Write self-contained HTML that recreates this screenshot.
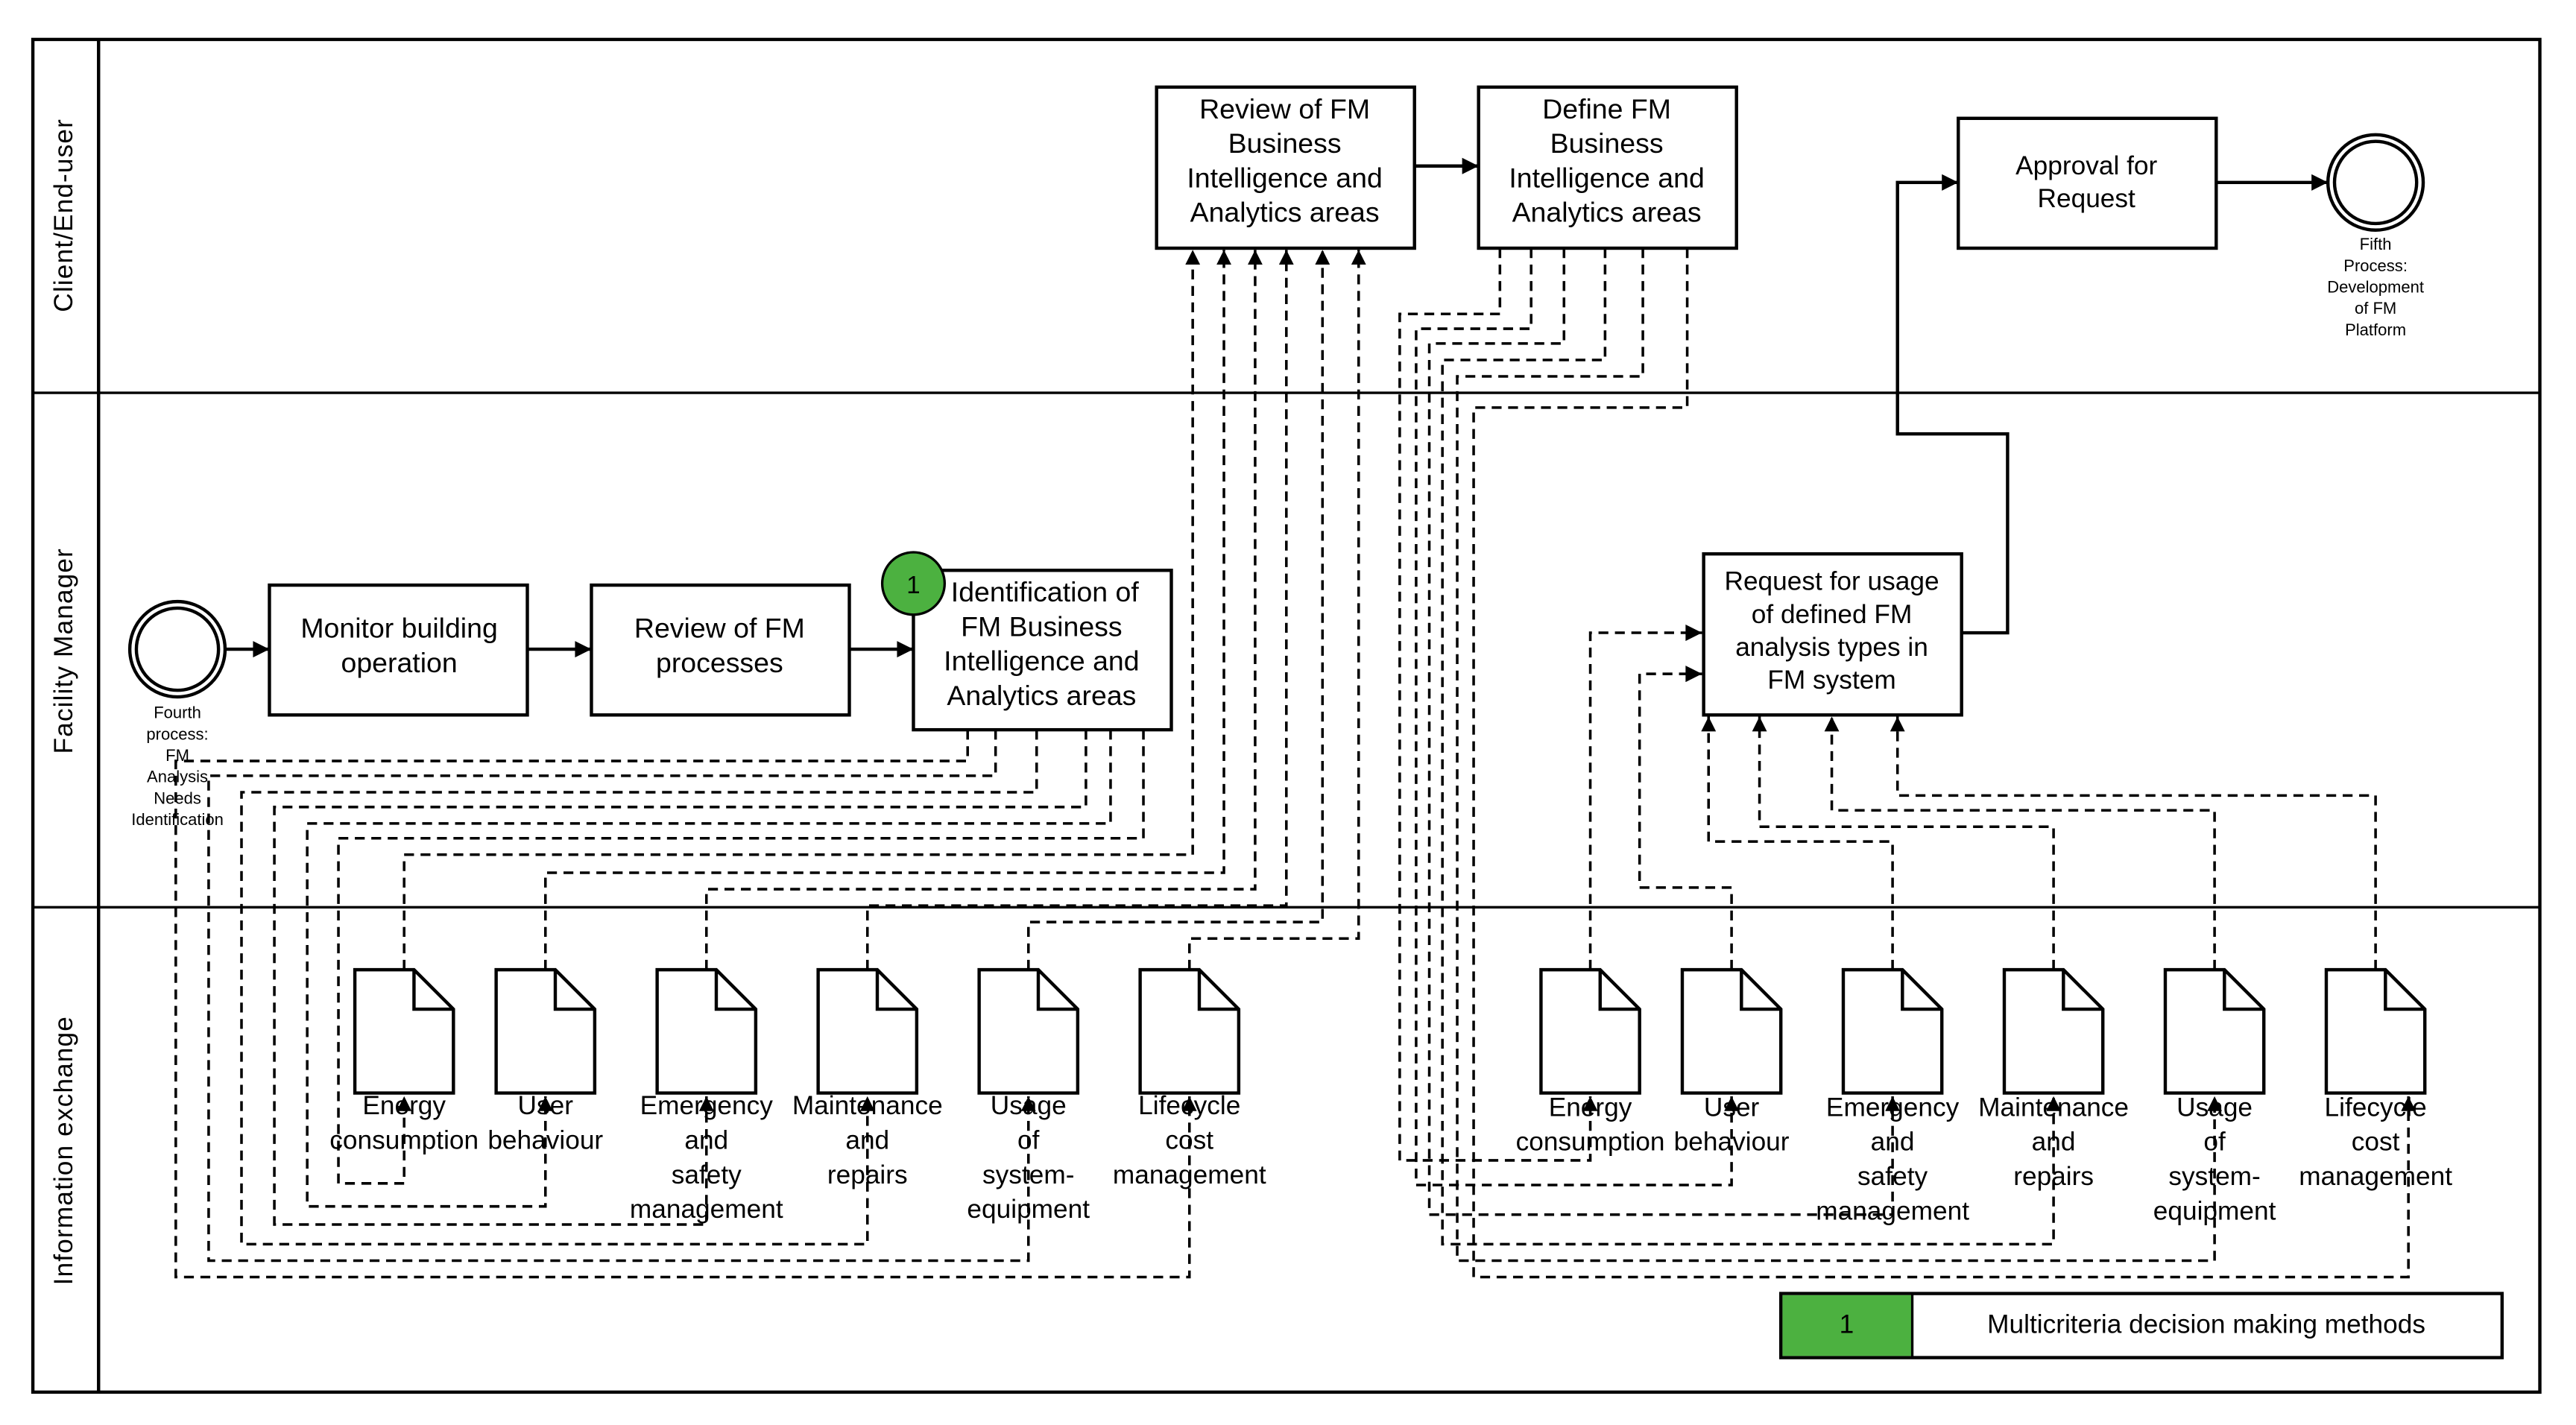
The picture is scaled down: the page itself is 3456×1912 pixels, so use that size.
<!DOCTYPE html>
<html><head><meta charset="utf-8"><style>
html,body{margin:0;padding:0;background:#fff}
svg{display:block}
text{font-family:"Liberation Sans",Arial,sans-serif;fill:#000}
</style></head><body>
<svg width="3456" height="1912" viewBox="0 0 1568 867" preserveAspectRatio="none" xmlns="http://www.w3.org/2000/svg">
<defs>
<marker id="a" viewBox="0 0 10 10" refX="10" refY="5" markerWidth="9" markerHeight="9" markerUnits="userSpaceOnUse" orient="auto"><path d="M0,0 L10,5 L0,10 z" fill="#000"/></marker>
<marker id="b" viewBox="0 0 10 10" refX="10" refY="5" markerWidth="13" markerHeight="10" markerUnits="userSpaceOnUse" orient="auto"><path d="M0,0 L10,5 L0,10 z" fill="#000"/></marker>
</defs>
<!-- frame -->
<rect x="20" y="24" width="1526" height="823" fill="none" stroke="#000" stroke-width="2"/>
<line x1="60" y1="24" x2="60" y2="847" stroke="#000" stroke-width="2"/>
<line x1="20" y1="239" x2="1546" y2="239" stroke="#000" stroke-width="1.5"/>
<line x1="20" y1="552" x2="1546" y2="552" stroke="#000" stroke-width="1.5"/>
<text transform="translate(44,131) rotate(-90)" text-anchor="middle" font-size="16" letter-spacing="0.5">Client/End-user</text>
<text transform="translate(44,396) rotate(-90)" text-anchor="middle" font-size="16" letter-spacing="0.5">Facility Manager</text>
<text transform="translate(44,700) rotate(-90)" text-anchor="middle" font-size="16" letter-spacing="0.5">Information exchange</text>

<g fill="#fff" stroke="#000" stroke-width="2">
<rect x="704" y="53" width="157" height="98"/>
<rect x="900" y="53" width="157" height="98"/>
<rect x="1192" y="72" width="157" height="79"/>
<rect x="164" y="356" width="157" height="79"/>
<rect x="360" y="356" width="157" height="79"/>
<rect x="556" y="347" width="157" height="97"/>
<rect x="1037" y="337" width="157" height="98"/>
<circle cx="1446" cy="111" r="29"/><circle cx="1446" cy="111" r="25"/>
<circle cx="108" cy="395" r="29"/><circle cx="108" cy="395" r="25"/>
</g>
<circle cx="556" cy="355" r="19" fill="#4cb140" stroke="#000" stroke-width="1.5"/>
<text x="556" y="361" text-anchor="middle" font-size="15">1</text>

<g font-size="17" text-anchor="middle">
<text x="782" y="72">Review of FM</text><text x="782" y="93">Business</text><text x="782" y="114">Intelligence and</text><text x="782" y="135">Analytics areas</text>
<text x="978" y="72">Define FM</text><text x="978" y="93">Business</text><text x="978" y="114">Intelligence and</text><text x="978" y="135">Analytics areas</text>
<text x="1270" y="106" font-size="16">Approval for</text><text x="1270" y="126" font-size="16">Request</text>
<text x="243" y="388">Monitor building</text><text x="243" y="409">operation</text>
<text x="438" y="388">Review of FM</text><text x="438" y="409">processes</text>
<text x="636" y="366">Identification of</text><text x="634" y="387">FM Business</text><text x="634" y="408">Intelligence and</text><text x="634" y="429">Analytics areas</text>
<text x="1115" y="359" font-size="16">Request for usage</text><text x="1115" y="379" font-size="16">of defined FM</text><text x="1115" y="399" font-size="16">analysis types in</text><text x="1115" y="419" font-size="16">FM system</text>
</g>
<g font-size="10" text-anchor="middle">
<text x="108" y="437">Fourth</text><text x="108" y="450">process:</text><text x="108" y="463">FM</text><text x="108" y="476">Analysis</text><text x="108" y="489">Needs</text><text x="108" y="502">Identification</text>
<text x="1446" y="152">Fifth</text><text x="1446" y="165">Process:</text><text x="1446" y="178">Development</text><text x="1446" y="191">of FM</text><text x="1446" y="204">Platform</text>
</g>

<!-- solid arrows -->
<g stroke="#000" stroke-width="2" fill="none">
<line x1="137" y1="395" x2="164" y2="395" marker-end="url(#b)"/>
<line x1="321" y1="395" x2="360" y2="395" marker-end="url(#b)"/>
<line x1="517" y1="395" x2="556" y2="395" marker-end="url(#b)"/>
<line x1="861" y1="101" x2="900" y2="101" marker-end="url(#b)"/>
<line x1="1349" y1="111" x2="1417" y2="111" marker-end="url(#b)"/>
<polyline points="1194,385 1222,385 1222,264 1155,264 1155,111 1192,111" marker-end="url(#b)"/>
</g>

<!-- documents -->
<g fill="#fff" stroke="#000" stroke-width="2">
<path d="M216,590 H252 L276,614 V665 H216 Z M252,590 V614 H276"/>
<path d="M302,590 H338 L362,614 V665 H302 Z M338,590 V614 H362"/>
<path d="M400,590 H436 L460,614 V665 H400 Z M436,590 V614 H460"/>
<path d="M498,590 H534 L558,614 V665 H498 Z M534,590 V614 H558"/>
<path d="M596,590 H632 L656,614 V665 H596 Z M632,590 V614 H656"/>
<path d="M694,590 H730 L754,614 V665 H694 Z M730,590 V614 H754"/>
<path d="M938,590 H974 L998,614 V665 H938 Z M974,590 V614 H998"/>
<path d="M1024,590 H1060 L1084,614 V665 H1024 Z M1060,590 V614 H1084"/>
<path d="M1122,590 H1158 L1182,614 V665 H1122 Z M1158,590 V614 H1182"/>
<path d="M1220,590 H1256 L1280,614 V665 H1220 Z M1256,590 V614 H1280"/>
<path d="M1318,590 H1354 L1378,614 V665 H1318 Z M1354,590 V614 H1378"/>
<path d="M1416,590 H1452 L1476,614 V665 H1416 Z M1452,590 V614 H1476"/>
</g>

<!-- dashed connectors -->
<g stroke="#000" stroke-width="1.6" fill="none" stroke-dasharray="6 4">
<polyline points="589,444 589,463 107,463 107,777 724,777 724,667" marker-end="url(#a)"/>
<polyline points="606,444 606,472 127,472 127,767 626,767 626,667" marker-end="url(#a)"/>
<polyline points="631,444 631,482 147,482 147,757 528,757 528,667" marker-end="url(#a)"/>
<polyline points="661,444 661,491 167,491 167,745 430,745 430,667" marker-end="url(#a)"/>
<polyline points="676,444 676,501 187,501 187,734 332,734 332,667" marker-end="url(#a)"/>
<polyline points="696,444 696,510 206,510 206,720 246,720 246,667" marker-end="url(#a)"/>
<polyline points="246,590 246,520 726,520 726,152" marker-end="url(#a)"/>
<polyline points="332,590 332,531 745,531 745,152" marker-end="url(#a)"/>
<polyline points="430,590 430,541 764,541 764,152" marker-end="url(#a)"/>
<polyline points="528,590 528,551 783,551 783,152" marker-end="url(#a)"/>
<polyline points="626,590 626,561 805,561 805,152" marker-end="url(#a)"/>
<polyline points="724,590 724,571 827,571 827,152" marker-end="url(#a)"/>
<polyline points="913,151 913,191 852,191 852,706 968,706 968,667" marker-end="url(#a)"/>
<polyline points="932,151 932,200 862,200 862,721 1054,721 1054,667" marker-end="url(#a)"/>
<polyline points="952,151 952,209 870,209 870,739 1152,739 1152,667" marker-end="url(#a)"/>
<polyline points="977,151 977,219 878,219 878,757 1250,757 1250,667" marker-end="url(#a)"/>
<polyline points="1000,151 1000,229 887,229 887,767 1348,767 1348,667" marker-end="url(#a)"/>
<polyline points="1027,151 1027,248 897,248 897,777 1466,777 1466,667" marker-end="url(#a)"/>
<polyline points="968,590 968,385 1036,385" marker-end="url(#b)"/>
<polyline points="1054,590 1054,540 998,540 998,410 1036,410" marker-end="url(#b)"/>
<polyline points="1152,590 1152,512 1040,512 1040,436" marker-end="url(#a)"/>
<polyline points="1250,590 1250,503 1071,503 1071,436" marker-end="url(#a)"/>
<polyline points="1348,590 1348,493 1115,493 1115,436" marker-end="url(#a)"/>
<polyline points="1446,590 1446,484 1155,484 1155,436" marker-end="url(#a)"/>
</g>

<!-- doc labels -->
<g font-size="16" text-anchor="middle">
<text x="246" y="678">Energy</text><text x="246" y="699">consumption</text>
<text x="332" y="678">User</text><text x="332" y="699">behaviour</text>
<text x="430" y="678">Emergency</text><text x="430" y="699">and</text><text x="430" y="720">safety</text><text x="430" y="741">management</text>
<text x="528" y="678">Maintenance</text><text x="528" y="699">and</text><text x="528" y="720">repairs</text>
<text x="626" y="678">Usage</text><text x="626" y="699">of</text><text x="626" y="720">system-</text><text x="626" y="741">equipment</text>
<text x="724" y="678">Lifecycle</text><text x="724" y="699">cost</text><text x="724" y="720">management</text>
<text x="968" y="679">Energy</text><text x="968" y="700">consumption</text>
<text x="1054" y="679">User</text><text x="1054" y="700">behaviour</text>
<text x="1152" y="679">Emergency</text><text x="1152" y="700">and</text><text x="1152" y="721">safety</text><text x="1152" y="742">management</text>
<text x="1250" y="679">Maintenance</text><text x="1250" y="700">and</text><text x="1250" y="721">repairs</text>
<text x="1348" y="679">Usage</text><text x="1348" y="700">of</text><text x="1348" y="721">system-</text><text x="1348" y="742">equipment</text>
<text x="1446" y="679">Lifecycle</text><text x="1446" y="700">cost</text><text x="1446" y="721">management</text>
</g>

<!-- legend -->
<rect x="1084" y="787" width="439" height="39" fill="#fff" stroke="#000" stroke-width="2"/>
<rect x="1085" y="788" width="79" height="37" fill="#4cb140"/>
<line x1="1164" y1="787" x2="1164" y2="826" stroke="#000" stroke-width="1.5"/>
<text x="1124" y="811" text-anchor="middle" font-size="16">1</text>
<text x="1343" y="811" text-anchor="middle" font-size="16">Multicriteria decision making methods</text>
</svg>
</body></html>
